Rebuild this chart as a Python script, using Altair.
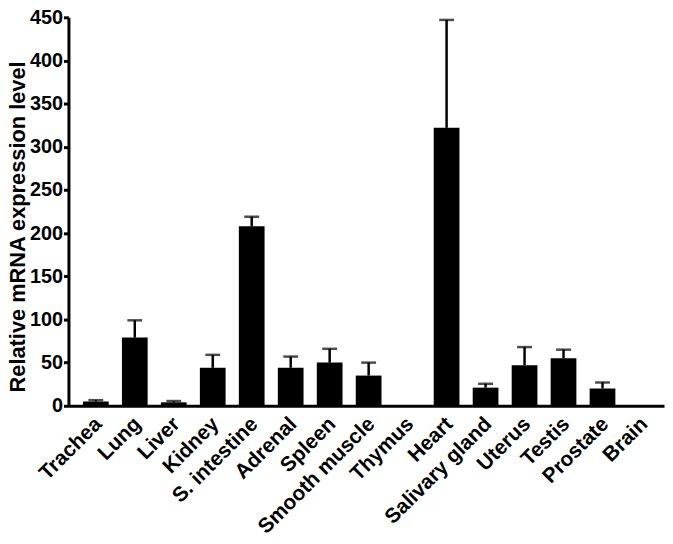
import altair as alt
import pandas as pd

tissues = ["Trachea", "Lung", "Liver", "Kidney", "S. intestine", "Adrenal", "Spleen",
           "Smooth muscle", "Thymus", "Heart", "Salivary gland", "Uterus", "Testis",
           "Prostate", "Brain"]
means = [5, 79, 4, 44, 208, 44, 50, 35, 0, 322, 21, 47, 55, 20, 0]
errors = [1.5, 20, 1.5, 15, 11, 13, 16, 15, 0, 125, 4.5, 21, 10, 7, 0]

df = pd.DataFrame({"tissue": tissues, "mean": means, "err": errors})
df["upper"] = df["mean"] + df["err"]

FONT = "Liberation Sans"

x = alt.X("tissue:N", sort=tissues, title=None,
          scale=alt.Scale(paddingInner=0.34, paddingOuter=0.31, align=0.6),
          axis=alt.Axis(labelAngle=-45, labelAlign="right", labelBaseline="middle",
                        labelFont=FONT, labelFontWeight="bold", labelFontSize=21,
                        labelColor="black", labelPadding=15, labelOffset=3, ticks=False,
                        domainColor="black", domainWidth=3, labelOverlap=False))

y_axis = alt.Axis(values=list(range(0, 451, 50)), labelFont=FONT, labelFontWeight="bold",
                  labelFontSize=20, labelColor="black", labelPadding=1,
                  tickColor="black", tickWidth=3, tickSize=5,
                  domainColor="black", domainWidth=3, grid=False,
                  title="Relative mRNA expression level", titleFont=FONT,
                  titleFontWeight="bold", titleFontSize=22, titleColor="black",
                  titlePadding=0, titleY=211)

base = alt.Chart(df)

bars = base.mark_bar(color="black").encode(
    x=x,
    y=alt.Y("mean:Q", scale=alt.Scale(domain=[0, 450], nice=False), axis=y_axis),
)

err_df = base.transform_filter("datum.err > 0")

rules = err_df.mark_rule(color="black", strokeWidth=2.5).encode(
    x=x, y="mean:Q", y2="upper:Q"
)

caps = err_df.mark_tick(color="black", size=15, thickness=2.5).encode(
    x=x, y="upper:Q"
)

chart = alt.layer(bars, rules, caps).properties(
    width=601, height=392,
    autosize=alt.AutoSizeParams(type="none"),
    padding={"left": 61, "top": 7, "right": 1, "bottom": 130},
).configure_view(stroke=None)

chart.save("out.html", embed_options={"renderer": "svg", "actions": False})
